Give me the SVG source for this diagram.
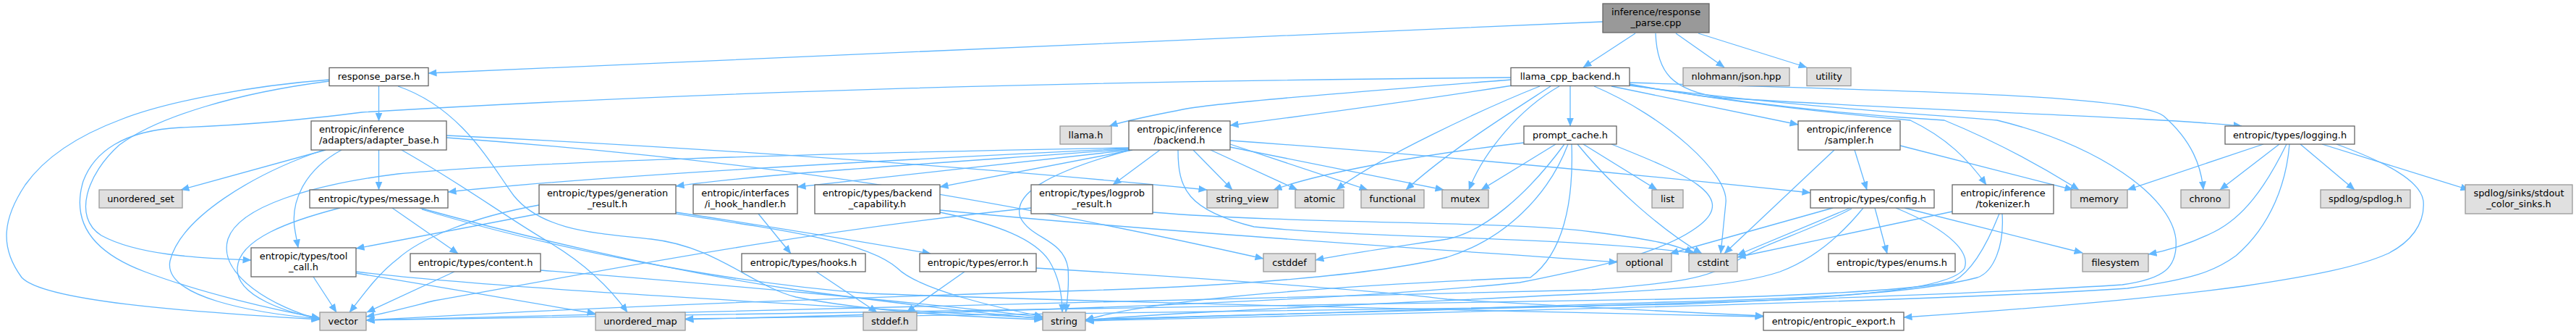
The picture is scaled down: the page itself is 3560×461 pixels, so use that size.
<svg xmlns="http://www.w3.org/2000/svg" width="3560" height="461" viewBox="0 0 3560 461">
<defs>
<marker id="ah" viewBox="0 0 12 10" refX="11.5" refY="5" markerWidth="12" markerHeight="10" markerUnits="userSpaceOnUse" orient="auto"><path d="M0,0 L12,5 L0,10 z" fill="#63b8ff"/></marker>
<style>
.e path{fill:none;stroke:#63b8ff;stroke-width:1.3;marker-end:url(#ah)}
rect{stroke-width:1.3}
.w{fill:#ffffff;stroke:#666666}
.g{fill:#e0e0e0;stroke:#999999}
.top{fill:#999999;stroke:#666666}
text{font-family:"DejaVu Sans","Liberation Sans",sans-serif;font-size:12.9px;fill:#000000;text-anchor:middle}
text.l{text-anchor:start}
</style>
</defs>
<rect width="3560" height="461" fill="#ffffff"/>
<g id="edges" class="e">
<path d="M2215,30 C1700,52 900,88 592,101"/>
<path d="M2260,46 L2188,93"/>
<path d="M2316,46 L2383,93"/>
<path d="M2347,46 L2497,93"/>
<path d="M2288,46 C2290,100 2310,125 2380,135 C2700,155 2950,160 3098,174"/>
<path d="M523.5,119 L523.5,167"/>
<path d="M455,110 C350,118 230,140 167,165 C100,190 60,220 35,255 C5,300 -2,340 30,383 C60,415 250,430 442,441"/>
<path d="M455,112 C330,128 220,160 165,200 C120,240 100,300 140,325 C190,352 270,356 347,359"/>
<path d="M550,119 C640,150 680,230 710,270 C750,320 830,322 900,330 C990,340 1040,395 1100,410 C1200,430 1350,438 1441,441"/>
<path d="M2088,107 C1500,112 1000,125 500,155 C420,165 350,172 250,176 C170,180 130,210 115,250 C100,300 120,345 200,375 C280,405 380,428 442,439"/>
<path d="M2088,110 C1900,125 1700,140 1640,150 C1600,158 1560,165 1533,174"/>
<path d="M2090,118 C1950,140 1800,160 1700,173"/>
<path d="M2128,119 C2050,150 1900,220 1847,262"/>
<path d="M2143,119 C2080,160 2000,210 1943,262"/>
<path d="M2155,119 C2100,150 2050,210 2030,262"/>
<path d="M2170,119 L2170,174"/>
<path d="M2203,119 C2300,160 2390,240 2385,280 C2382,310 2380,330 2378,350"/>
<path d="M2227,119 L2485,172"/>
<path d="M2252,116 C2380,140 2520,155 2640,166 C2690,190 2720,220 2745,255"/>
<path d="M2252,117 C2450,150 2620,162 2687,166 C2770,200 2830,235 2873,262"/>
<path d="M2252,114 C2600,125 2950,130 2990,160 C3030,195 3042,230 3045,262"/>
<path d="M2252,118 C2500,150 2700,160 2760,166 C2900,200 3000,270 3007,330 C3010,370 2990,385 2933,393 C2600,415 1800,432 1500,441"/>
<path d="M523.5,207 L523.5,262"/>
<path d="M450,207 L250,262"/>
<path d="M447,207 C350,240 250,300 235,360 C225,410 350,432 442,440"/>
<path d="M472,207 C420,235 400,280 408,320 L412,342"/>
<path d="M555,207 C640,255 700,300 760,335 C810,365 845,400 867,431"/>
<path d="M617,187 C1000,205 1400,235 1668,262"/>
<path d="M617,190 C1100,225 1400,280 1746,357"/>
<path d="M1560,204 C1100,212 700,225 550,240 C430,255 330,285 315,330 C300,380 380,425 442,441"/>
<path d="M1560,205 C1200,222 800,245 619,265"/>
<path d="M1560,206 C1300,225 1050,240 934,257"/>
<path d="M1562,207 L1102,258"/>
<path d="M1565,207 L1299,258"/>
<path d="M1562,207 C1440,240 1400,270 1410,300 C1425,330 1470,330 1476,370 C1478,400 1474,420 1473,431"/>
<path d="M1603,207 L1538,255"/>
<path d="M1649,207 L1703,262"/>
<path d="M1673,207 L1793,262"/>
<path d="M1700,199 L1890,262"/>
<path d="M1700,203 L1995,262"/>
<path d="M1700,194 C2000,215 2300,245 2502,266"/>
<path d="M1628,207 C1628,260 1640,290 1733,313 C1900,330 2150,325 2345,350"/>
<path d="M2106,197 C1950,215 1820,240 1760,262"/>
<path d="M2150,199 L2047,262"/>
<path d="M2162,199 C2110,270 2050,320 2000,330 C1900,345 1850,352 1818,359"/>
<path d="M2188,199 L2290,262"/>
<path d="M2180,199 C2230,260 2300,320 2352,350"/>
<path d="M2167,199 C2140,270 2080,330 2000,355 C1900,380 1700,395 1500,401 C1200,410 800,425 506,442"/>
<path d="M2172,199 C2175,280 2160,350 2115,383 C1900,392 1600,410 1500,442"/>
<path d="M2227,199 C2330,240 2400,270 2350,310 C2300,350 2200,370 2100,390 C1800,420 1300,432 947,441"/>
<path d="M2535,207 L2383,350"/>
<path d="M2563,207 L2580,262"/>
<path d="M2626,201 L2865,262"/>
<path d="M3128,199 L2940,262"/>
<path d="M3150,199 L3068,262"/>
<path d="M3160,199 C3130,260 3100,300 3060,320 C3030,335 3000,345 2969,351"/>
<path d="M3164,199 C3160,250 3140,310 3090,353 C3060,375 3030,385 2940,398 C2600,420 1800,435 1500,443"/>
<path d="M3179,199 L3254,262"/>
<path d="M3209,199 L3412,262"/>
<path d="M3229,199 C3300,225 3345,250 3349,277 C3352,310 3330,335 3300,350 C3260,368 3200,380 3100,395 C2950,415 2750,430 2631,438"/>
<path d="M542,287 L633,350"/>
<path d="M470,287 C400,305 330,330 328,370 C326,410 400,432 442,440"/>
<path d="M580,287 C700,320 900,370 1100,400 C1250,420 1350,432 1441,440"/>
<path d="M583,289 C750,340 1000,390 1200,405 C1600,420 2200,432 2437,437"/>
<path d="M745,283 C650,300 580,330 550,357 C520,380 500,410 483,431"/>
<path d="M745,295 L492,343"/>
<path d="M934,293 C1100,318 1200,335 1286,350"/>
<path d="M934,295 C1100,320 1200,335 1240,370 C1270,400 1380,425 1441,437"/>
<path d="M1048,295 L1093,350"/>
<path d="M1299,293 C1380,310 1430,330 1450,360 C1465,385 1468,410 1468,431"/>
<path d="M1299,290 C1600,320 2000,345 2235,362"/>
<path d="M1425,287 C1100,320 800,380 600,415 C560,425 530,433 506,437"/>
<path d="M1593,293 C1800,310 2100,305 2200,320 C2280,330 2320,338 2340,350"/>
<path d="M2533,287 L2308,350"/>
<path d="M2557,287 L2401,352"/>
<path d="M2591,287 L2608,350"/>
<path d="M2632,287 L2878,349"/>
<path d="M2559,288 C2500,320 2439,335 2400,360 C2360,385 2320,390 2200,400 C1500,420 900,432 506,442"/>
<path d="M2575,287 C2540,330 2500,360 2460,375 C2400,395 2300,400 2200,405 C1900,420 1600,432 1500,442"/>
<path d="M2620,287 C2700,320 2722,350 2715,370 C2700,395 2600,410 2320,420 C1800,430 1200,437 947,440"/>
<path d="M2698,292 L2401,355"/>
<path d="M2763,295 C2745,340 2725,375 2700,388 C2650,400 2500,408 2300,413 C1600,425 900,435 506,442"/>
<path d="M2767,295 C2770,340 2755,375 2733,383 C2650,405 2500,412 2300,417 C2000,428 1700,436 1500,442"/>
<path d="M433,382 L465,431"/>
<path d="M492,377 C600,395 750,420 823,433"/>
<path d="M492,375 C700,400 1200,425 1441,439"/>
<path d="M628,375 L507,431"/>
<path d="M747,373 C1000,393 1300,420 1441,438"/>
<path d="M1128,375 L1212,431"/>
<path d="M1333,375 L1253,431"/>
<path d="M1432,370 C1600,380 1900,400 2000,413 C2200,425 2350,432 2437,436"/>
</g>
<g id="node1"><rect class="top" x="2215" y="5" width="147" height="40"/><text x="2288.5" y="21">inference/response</text><text x="2288.5" y="35.5">_parse.cpp</text></g>
<g id="node2"><rect class="w" x="455" y="93.5" width="137" height="25"/><text x="523.5" y="110">response_parse.h</text></g>
<g id="node3"><rect class="w" x="2088" y="93.5" width="164" height="25"/><text x="2170" y="110">llama_cpp_backend.h</text></g>
<g id="node4"><rect class="g" x="2326" y="93.5" width="147" height="25"/><text x="2399.5" y="110">nlohmann/json.hpp</text></g>
<g id="node5"><rect class="g" x="2497" y="93.5" width="61" height="25"/><text x="2527.5" y="110">utility</text></g>
<g id="node6"><rect class="w" x="430" y="167" width="187" height="40"/><text class="l" x="441" y="183">entropic/inference</text><text class="l" x="441" y="197.5">/adapters/adapter_base.h</text></g>
<g id="node7"><rect class="g" x="1465" y="174" width="71" height="25"/><text x="1500.5" y="190.5">llama.h</text></g>
<g id="node8"><rect class="w" x="1560" y="167" width="140" height="40"/><text x="1630" y="183">entropic/inference</text><text x="1630" y="197.5">/backend.h</text></g>
<g id="node9"><rect class="w" x="2106" y="174" width="128" height="25"/><text x="2170" y="190.5">prompt_cache.h</text></g>
<g id="node10"><rect class="w" x="2485" y="167" width="141" height="40"/><text x="2555.5" y="183">entropic/inference</text><text x="2555.5" y="197.5">/sampler.h</text></g>
<g id="node11"><rect class="w" x="3075" y="174" width="179" height="25"/><text x="3164.5" y="190.5">entropic/types/logging.h</text></g>
<g id="node12"><rect class="g" x="137" y="262" width="115" height="25"/><text x="194.5" y="278.5">unordered_set</text></g>
<g id="node13"><rect class="w" x="428" y="262" width="191" height="25"/><text x="523.5" y="278.5">entropic/types/message.h</text></g>
<g id="node14"><rect class="w" x="745" y="255" width="189" height="40"/><text x="839.5" y="271">entropic/types/generation</text><text x="839.5" y="285.5">_result.h</text></g>
<g id="node15"><rect class="w" x="958" y="255" width="144" height="40"/><text x="1030" y="271">entropic/interfaces</text><text x="1030" y="285.5">/i_hook_handler.h</text></g>
<g id="node16"><rect class="w" x="1126" y="255" width="173" height="40"/><text x="1212.5" y="271">entropic/types/backend</text><text x="1212.5" y="285.5">_capability.h</text></g>
<g id="node17"><rect class="w" x="1425" y="255" width="168" height="40"/><text x="1509" y="271">entropic/types/logprob</text><text x="1509" y="285.5">_result.h</text></g>
<g id="node18"><rect class="g" x="1668" y="262" width="98" height="25"/><text x="1717" y="278.5">string_view</text></g>
<g id="node19"><rect class="g" x="1790" y="262" width="67" height="25"/><text x="1823.5" y="278.5">atomic</text></g>
<g id="node20"><rect class="g" x="1881" y="262" width="87" height="25"/><text x="1924.5" y="278.5">functional</text></g>
<g id="node21"><rect class="g" x="1993" y="262" width="64" height="25"/><text x="2025" y="278.5">mutex</text></g>
<g id="node22"><rect class="g" x="2283" y="262" width="43" height="25"/><text x="2304.5" y="278.5">list</text></g>
<g id="node23"><rect class="w" x="2502" y="262" width="171" height="25"/><text x="2587.5" y="278.5">entropic/types/config.h</text></g>
<g id="node24"><rect class="w" x="2698" y="255" width="140" height="40"/><text x="2768" y="271">entropic/inference</text><text x="2768" y="285.5">/tokenizer.h</text></g>
<g id="node25"><rect class="g" x="2862" y="262" width="78" height="25"/><text x="2901" y="278.5">memory</text></g>
<g id="node26"><rect class="g" x="3014" y="262" width="67" height="25"/><text x="3047.5" y="278.5">chrono</text></g>
<g id="node27"><rect class="g" x="3207" y="262" width="124" height="25"/><text x="3269" y="278.5">spdlog/spdlog.h</text></g>
<g id="node28"><rect class="g" x="3407" y="255" width="148" height="40"/><text x="3481" y="271">spdlog/sinks/stdout</text><text x="3481" y="285.5">_color_sinks.h</text></g>
<g id="node29"><rect class="w" x="347" y="342" width="145" height="40"/><text x="419.5" y="358">entropic/types/tool</text><text x="419.5" y="372.5">_call.h</text></g>
<g id="node30"><rect class="w" x="567" y="350" width="180" height="25"/><text x="657" y="366.5">entropic/types/content.h</text></g>
<g id="node31"><rect class="w" x="1025" y="350" width="171" height="25"/><text x="1110.5" y="366.5">entropic/types/hooks.h</text></g>
<g id="node32"><rect class="w" x="1271" y="350" width="161" height="25"/><text x="1351.5" y="366.5">entropic/types/error.h</text></g>
<g id="node33"><rect class="g" x="1746" y="350" width="72" height="25"/><text x="1782" y="366.5">cstddef</text></g>
<g id="node34"><rect class="g" x="2235" y="350" width="75" height="25"/><text x="2272.5" y="366.5">optional</text></g>
<g id="node35"><rect class="g" x="2334" y="350" width="67" height="25"/><text x="2367.5" y="366.5">cstdint</text></g>
<g id="node36"><rect class="w" x="2527" y="350" width="175" height="25"/><text x="2614.5" y="366.5">entropic/types/enums.h</text></g>
<g id="node37"><rect class="g" x="2878" y="350" width="91" height="25"/><text x="2923.5" y="366.5">filesystem</text></g>
<g id="node38"><rect class="g" x="442" y="431" width="64" height="25"/><text x="474" y="447.5">vector</text></g>
<g id="node39"><rect class="g" x="823" y="431" width="124" height="25"/><text x="885" y="447.5">unordered_map</text></g>
<g id="node40"><rect class="g" x="1193" y="431" width="74" height="25"/><text x="1230" y="447.5">stddef.h</text></g>
<g id="node41"><rect class="g" x="1441" y="431" width="59" height="25"/><text x="1470.5" y="447.5">string</text></g>
<g id="node42"><rect class="w" x="2437" y="431" width="194" height="25"/><text x="2534" y="447.5">entropic/entropic_export.h</text></g>
</svg>
